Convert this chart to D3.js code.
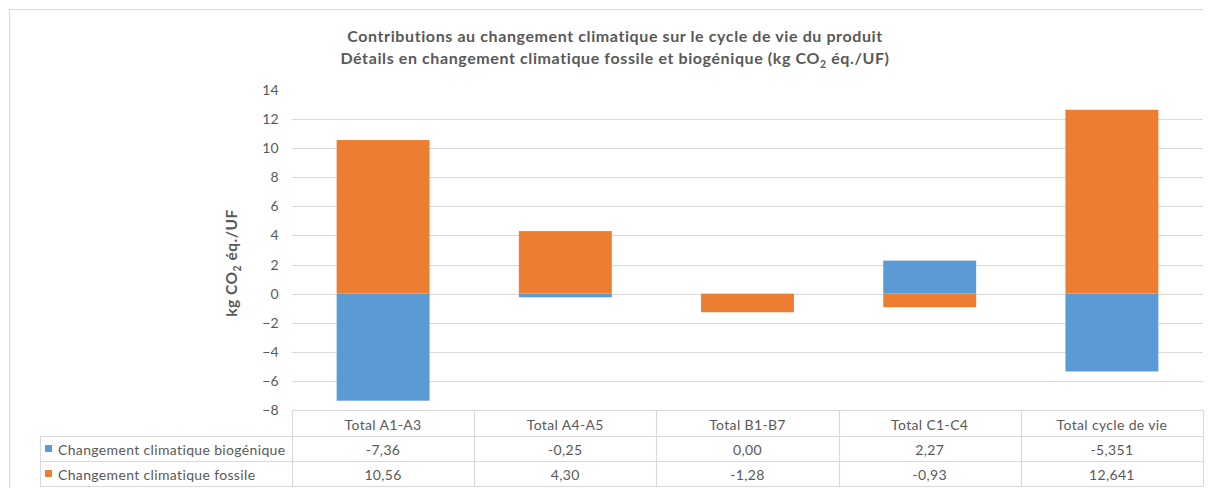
<!DOCTYPE html>
<html>
<head>
<meta charset="utf-8">
<script src="https://cdn.jsdelivr.net/npm/d3@7"></script>
<style>
  html, body { margin: 0; padding: 0; background: #ffffff; }
  svg { display: block; font-family: Lato, "Open Sans", sans-serif; }
</style>
</head>
<body>
<svg id="chart" width="1210" height="488"></svg>
<script>
const categories = ["Total A1-A3", "Total A4-A5", "Total B1-B7", "Total C1-C4", "Total cycle de vie"];
const seriesNames = ["Changement climatique biogénique", "Changement climatique fossile"];
const biogenic = [-7.36, -0.25, 0.00, 2.27, -5.351];
const fossil = [10.56, 4.30, -1.28, -0.93, 12.641];
const decimals = [2, 2, 2, 2, 3];
const yTicks = [14, 12, 10, 8, 6, 4, 2, 0, -2, -4, -6, -8];
const colors = ["#5B9BD5", "#ED7D31"];

const svg = d3.select("#chart");
const W = 1210, H = 488;
const plot = { left: 292, right: 1203, top: 90, bottom: 410 };
const grey = "#595959", lineCol = "#d9d9d9";

// outer chart border (left & top)
svg.append("path").attr("d", `M9.5,${H} V9.5 H1203`).attr("fill", "none").attr("stroke", lineCol).attr("stroke-width", 1.2);

const x = d3.scaleBand().domain(categories).range([plot.left, plot.right]).padding(0);
const y = d3.scaleLinear().domain([-8, 14]).range([plot.bottom, plot.top]);

// gridlines
svg.append("g").selectAll("line").data(yTicks.filter(t => t !== 14 && t !== -8)).join("line")
  .attr("x1", plot.left).attr("x2", plot.right)
  .attr("y1", d => Math.round(y(d)) + 0.5).attr("y2", d => Math.round(y(d)) + 0.5)
  .attr("stroke", lineCol).attr("stroke-width", 1.2);

// y axis labels
const yAxis = d3.axisLeft(y).tickValues(yTicks).tickSize(0).tickPadding(0).tickFormat(d3.format("d"));
const gy = svg.append("g").attr("transform", `translate(279,0)`).call(yAxis);
gy.select(".domain").remove();
gy.selectAll("text").attr("fill", grey).attr("font-size", 14).attr("letter-spacing", 0.3).attr("font-family", "Lato, sans-serif");

// stacked bars
const table = categories.map((c, i) => ({ cat: c, bio: biogenic[i], fos: fossil[i] }));
const stack = d3.stack().keys(["bio", "fos"]).offset(d3.stackOffsetDiverging);
const layers = stack(table);
const barW = x.bandwidth() * 0.51;
svg.append("g").selectAll("g").data(layers).join("g")
  .attr("fill", (d, i) => colors[i])
  .selectAll("rect").data(d => d).join("rect")
  .attr("x", d => x(d.data.cat) + (x.bandwidth() - barW) / 2)
  .attr("width", barW)
  .attr("y", d => y(Math.max(d[0], d[1])))
  .attr("height", d => Math.abs(y(d[0]) - y(d[1])));

// y axis title
const yt = svg.append("text").attr("transform", `translate(237,263) rotate(-90)`)
  .attr("text-anchor", "middle").attr("fill", grey).attr("font-size", 15.5).attr("letter-spacing", 0.5).attr("font-weight", "bold");
yt.append("tspan").text("kg CO");
yt.append("tspan").text("2").attr("font-size", 10.5).attr("dy", 4);
yt.append("tspan").text(" éq./UF").attr("dy", -4);

// title
const title = svg.append("text").attr("text-anchor", "middle").attr("fill", grey).attr("font-size", 16).attr("letter-spacing", 0.6).attr("font-weight", "bold");
title.append("tspan").attr("x", 615).attr("y", 42).text("Contributions au changement climatique sur le cycle de vie du produit");
const t2 = svg.append("text").attr("text-anchor", "middle").attr("fill", grey).attr("font-size", 16).attr("letter-spacing", 0.6).attr("font-weight", "bold")
  .attr("x", 615).attr("y", 64);
t2.append("tspan").text("Détails en changement climatique fossile et biogénique (kg CO");
t2.append("tspan").text("2").attr("font-size", 10.5).attr("dy", 4);
t2.append("tspan").text(" éq./UF)").attr("dy", -4);

// data table
const rowTop = [410, 436, 461, 486];
const tLeft = 40;
const tg = svg.append("g");
const stroke = (x1, y1, x2, y2) => tg.append("line").attr("x1", x1).attr("y1", y1).attr("x2", x2).attr("y2", y2)
  .attr("stroke", lineCol).attr("stroke-width", 1.2);
stroke(plot.left, rowTop[0] + 0.5, plot.right, rowTop[0] + 0.5);
for (let r = 1; r < 4; r++) stroke(tLeft, rowTop[r] + 0.5, plot.right, rowTop[r] + 0.5);
stroke(tLeft + 0.5, rowTop[1], tLeft + 0.5, rowTop[3]);
categories.forEach(c => stroke(Math.round(x(c)) + 0.5, rowTop[0], Math.round(x(c)) + 0.5, rowTop[3]));
stroke(plot.right + 0.5, rowTop[0], plot.right + 0.5, rowTop[3]);

const fmt = (v, d) => d3.format(`.${d}f`)(v).replace("−", "-").replace(".", ",");
const tText = (tx, ty, s, anchor) => tg.append("text").attr("x", tx).attr("y", ty).attr("text-anchor", anchor || "middle")
  .attr("fill", grey).attr("font-size", 14).attr("letter-spacing", 0.35).attr("dominant-baseline", "central").text(s);
categories.forEach((c, i) => {
  const cx = x(c) + x.bandwidth() / 2;
  tText(cx, (rowTop[0] + rowTop[1]) / 2 + 1, c);
  tText(cx, (rowTop[1] + rowTop[2]) / 2 + 1, fmt(biogenic[i], decimals[i]));
  tText(cx, (rowTop[2] + rowTop[3]) / 2 + 1, fmt(fossil[i], decimals[i]));
});
[biogenic, fossil].forEach((s, r) => {
  const cy = (rowTop[r + 1] + rowTop[r + 2]) / 2;
  tg.append("rect").attr("x", 45).attr("y", cy - 3.5).attr("width", 7).attr("height", 7).attr("fill", colors[r]);
  tText(58, cy + 1, seriesNames[r], "start");
});
</script>
</body>
</html>
